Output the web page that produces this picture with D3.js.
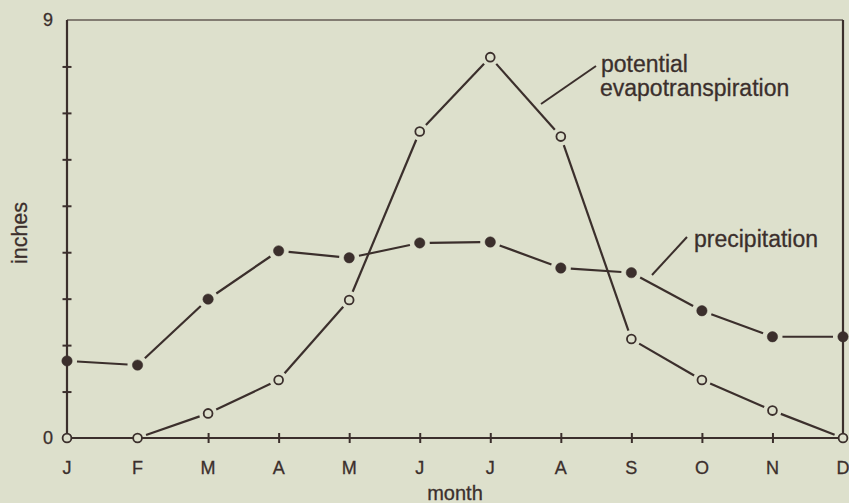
<!DOCTYPE html>
<html>
<head>
<meta charset="utf-8">
<script src="https://cdn.jsdelivr.net/npm/d3@7"></script>
<style>
  body { margin: 0; background: #dde0cc; overflow: hidden; }
  svg text { font-family: "Liberation Sans", Arial, sans-serif; fill: #3b2f2c; stroke: #3b2f2c; stroke-width: 0.3px; }
</style>
</head>
<body>
<div id="chart"></div>
<script>
// Data
const months = ["J", "F", "M", "A", "M", "J", "J", "A", "S", "O", "N", "D"];
const evapotranspiration = [0, 0, 0.53, 1.25, 2.97, 6.6, 8.2, 6.49, 2.13, 1.25, 0.59, 0];
const precipitation = [1.66, 1.57, 2.99, 4.03, 3.88, 4.2, 4.22, 3.66, 3.56, 2.74, 2.18, 2.18];
const yTickValues = [0, 1, 2, 3, 4, 5, 6, 7, 8, 9];
const yLabelValues = [0, 9];

const ink = "#3b2f2c";
const paper = "#dde0cc";

const width = 849, height = 503;
const margin = {top: 20, right: 6, bottom: 65, left: 67};

const svg = d3.select("#chart").append("svg")
    .attr("width", width)
    .attr("height", height);

const idx = months.map((d, i) => i);

const x = d3.scaleLinear()
    .domain([0, months.length - 1])
    .range([margin.left, width - margin.right]);

const y = d3.scaleLinear()
    .domain([0, 9])
    .range([height - margin.bottom, margin.top]);

// Frame
svg.append("line")
    .attr("x1", x(0)).attr("x2", x(11)).attr("y1", y(9)).attr("y2", y(9))
    .attr("stroke", ink).attr("stroke-width", 1.6).attr("stroke-opacity", 0.75);
svg.append("line")
    .attr("x1", x(11)).attr("x2", x(11)).attr("y1", y(9)).attr("y2", y(0))
    .attr("stroke", ink).attr("stroke-width", 2.2);
svg.append("line")
    .attr("x1", x(0)).attr("x2", x(0)).attr("y1", y(9)).attr("y2", y(0))
    .attr("stroke", ink).attr("stroke-width", 2.2);
svg.append("line")
    .attr("x1", x(0)).attr("x2", x(11)).attr("y1", y(0)).attr("y2", y(0))
    .attr("stroke", ink).attr("stroke-width", 2.2);

// Y axis ticks (crossing) and labels
const yAxis = d3.axisLeft(y)
    .tickValues(yTickValues.filter(v => v > 0 && v < 9))
    .tickSizeInner(-9)
    .tickSizeOuter(0)
    .tickFormat("");

svg.append("g")
    .attr("class", "y-axis")
    .attr("transform", `translate(${x(0) - 4.5}, 0)`)
    .call(yAxis)
    .call(g => g.select(".domain").remove())
    .selectAll("line")
    .attr("stroke", ink)
    .attr("stroke-width", 2);

svg.selectAll(".y-label")
    .data(yLabelValues)
    .enter().append("text")
    .attr("class", "y-label")
    .attr("x", x(0) - 14)
    .attr("y", d => y(d))
    .attr("dy", "0.36em")
    .attr("text-anchor", "end")
    .style("font-size", "18px")
    .text(d => d);

// X axis ticks (crossing) and labels
const xAxis = d3.axisBottom(x)
    .tickValues(idx.filter(i => i > 1 && i < 11))
    .tickSizeInner(10)
    .tickSizeOuter(0)
    .tickFormat("");

svg.append("g")
    .attr("class", "x-axis")
    .attr("transform", `translate(0, ${y(0) - 5})`)
    .call(xAxis)
    .call(g => g.select(".domain").remove())
    .selectAll("line")
    .attr("stroke", ink)
    .attr("stroke-width", 2);

svg.selectAll(".x-label")
    .data(months)
    .enter().append("text")
    .attr("class", "x-label")
    .attr("x", (d, i) => x(i))
    .attr("y", y(0) + 36)
    .attr("text-anchor", "middle")
    .style("font-size", "18px")
    .text(d => d);

// Axis titles
svg.append("text")
    .attr("x", (x(0) + x(11)) / 2)
    .attr("y", 500)
    .attr("text-anchor", "middle")
    .style("font-size", "20px")
    .text("month");

svg.append("text")
    .attr("transform", `translate(27, ${(y(0) + y(9)) / 2 + 4}) rotate(-90)`)
    .attr("text-anchor", "middle")
    .style("font-size", "21.5px")
    .text("inches");

// Line segments shortened so they stop before each marker
function segments(values, gap) {
    let segs = [];
    for (let i = 0; i < values.length - 1; i++) {
        let x1 = x(i), y1 = y(values[i]), x2 = x(i + 1), y2 = y(values[i + 1]);
        let len = Math.hypot(x2 - x1, y2 - y1);
        let ux = (x2 - x1) / len, uy = (y2 - y1) / len;
        segs.push([[x1 + ux * gap, y1 + uy * gap], [x2 - ux * gap, y2 - uy * gap]]);
    }
    return segs;
}

const line = d3.line();

function drawSeries(values, filled, cls) {
    svg.selectAll(".seg-" + cls)
        .data(segments(values, filled ? 10 : 9))
        .enter().append("path")
        .attr("class", "seg-" + cls)
        .attr("d", line)
        .attr("fill", "none")
        .attr("stroke", ink)
        .attr("stroke-width", 2.2);

    svg.selectAll(".pt-" + cls)
        .data(values)
        .enter().append("circle")
        .attr("class", "pt-" + cls)
        .attr("cx", (d, i) => x(i))
        .attr("cy", d => y(d))
        .attr("r", filled ? 5.2 : 4.4)
        .attr("fill", filled ? ink : paper)
        .attr("stroke", ink)
        .attr("stroke-width", filled ? 0.5 : 1.8);
}

drawSeries(precipitation, true, "precip");
drawSeries(evapotranspiration, false, "pet");

// Annotations
svg.append("line")
    .attr("x1", 541).attr("y1", 104).attr("x2", 596).attr("y2", 66)
    .attr("stroke", ink).attr("stroke-width", 2);
svg.append("text")
    .attr("x", 601).attr("y", 72)
    .style("font-size", "23px")
    .text("potential");
svg.append("text")
    .attr("x", 600).attr("y", 96)
    .style("font-size", "23px")
    .text("evapotranspiration");

svg.append("line")
    .attr("x1", 652).attr("y1", 275).attr("x2", 687).attr("y2", 237)
    .attr("stroke", ink).attr("stroke-width", 2);
svg.append("text")
    .attr("x", 694).attr("y", 247)
    .style("font-size", "23px")
    .text("precipitation");
</script>
</body>
</html>
